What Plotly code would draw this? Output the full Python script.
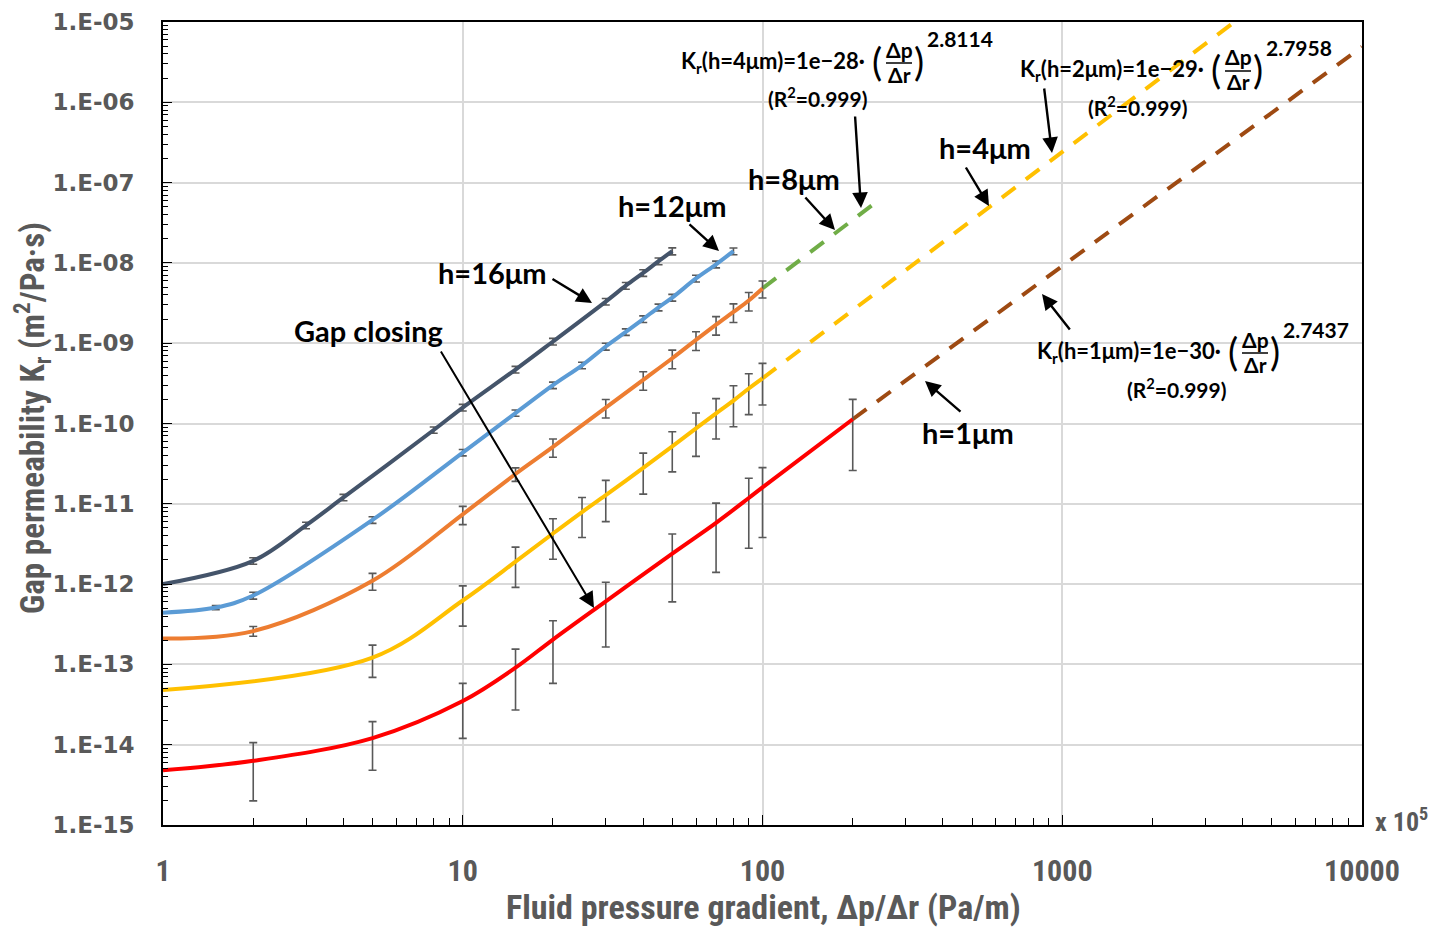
import plotly.graph_objects as go

# ---------------- data ----------------
# x: fluid pressure gradient (x 10^5 Pa/m), k: gap permeability (m^2/Pa.s), e: error (+/-)
x_h16 = [1, 2, 3, 4, 8, 10, 15, 20, 30, 35, 40, 45, 50]
k_h16 = [1.0e-12, 1.95e-12, 5.4e-12, 1.2e-11, 8.3e-11, 1.58e-10, 4.7e-10, 1.05e-9,
         3.3e-9, 5.2e-9, 7.5e-9, 1.05e-8, 1.4e-8]
e_h16 = [None, 1.8e-13, 5e-13, 1.1e-12, 7.5e-12, 1.5e-11, 4.5e-11, 1.0e-10,
         3.1e-10, 5e-10, 7e-10, 1.0e-9, 1.4e-9]

x_h12 = [1, 1.5, 2, 5, 10, 15, 20, 25, 30, 35, 40, 45, 50, 60, 70, 80]
k_h12 = [4.4e-13, 5.1e-13, 7.2e-13, 6.3e-12, 4.35e-11, 1.35e-10, 3.0e-10, 5.3e-10,
         9.1e-10, 1.38e-9, 2.0e-9, 2.8e-9, 3.7e-9, 6.4e-9, 9.6e-9, 1.4e-8]
e_h12 = [None, 3e-14, 7e-14, 6e-13, 4e-12, 1.2e-11, 2.8e-11, 5e-11,
         9e-11, 1.3e-10, 1.9e-10, 2.7e-10, 3.6e-10, 6.2e-10, 9.2e-10, 1.35e-9]

x_h8 = [1, 2, 5, 10, 15, 20, 30, 40, 50, 60, 70, 80, 90, 100]
k_h8 = [2.1e-13, 2.6e-13, 1.1e-12, 7.4e-12, 2.35e-11, 5.1e-11, 1.58e-10, 3.5e-10,
        6.5e-10, 1.1e-9, 1.7e-9, 2.45e-9, 3.4e-9, 4.8e-9]
e_h8 = [None, 3.6e-14, 2.6e-13, 1.9e-12, 4.5e-12, 1.3e-11, 4.1e-11, 9.1e-11,
        1.7e-10, 2.9e-10, 4.4e-10, 6.4e-10, 8.8e-10, 1.15e-9]

x_h4 = [1, 5, 10, 15, 20, 25, 30, 40, 50, 60, 70, 80, 90, 100]
k_h4 = [4.8e-14, 1.215e-13, 6.25e-13, 1.9e-12, 4.27e-12, 7.9e-12, 1.28e-11, 2.8e-11,
        5.2e-11, 8.7e-11, 1.34e-10, 1.93e-10, 2.73e-10, 3.65e-10]
e_h4 = [None, 5.25e-14, 3.25e-13, 9.9e-13, 2.23e-12, 4.1e-12, 6.8e-12, 1.48e-11,
        2.7e-11, 4.8e-11, 7.0e-11, 1.02e-10, 1.44e-10, 1.95e-10]

x_h1 = [1, 2, 5, 10, 15, 20, 30, 50, 70, 90, 100, 200]
k_h1 = [4.8e-15, 6.3e-15, 1.21e-14, 3.5e-14, 9.1e-14, 2.04e-13, 6.1e-13, 2.4e-12,
        5.8e-12, 1.18e-11, 1.6e-11, 1.13e-10]
e_h1 = [None, 4.3e-15, 7.3e-15, 2.3e-14, 6.4e-14, 1.46e-13, 4.45e-13, 1.8e-12,
        4.4e-12, 9.0e-12, 1.22e-11, 8.7e-11]

# power-law fit extensions (end points)
x_fit8 = [100, 233]
k_fit8 = [4.8e-9, 5.3e-8]
x_fit4 = [100, 3750]
k_fit4 = [3.65e-10, 1.0e-5]
x_fit1 = [200, 10000]
k_fit1 = [1.13e-10, 4.9e-6]

x_tickvals = [1, 10, 100, 1000, 10000]
x_ticktext = ["1", "10", "100", "1000", "10000"]
y_tickvals = [1e-15, 1e-14, 1e-13, 1e-12, 1e-11, 1e-10, 1e-9, 1e-8, 1e-7, 1e-6, 1e-5]
y_ticktext = ["1.E-15", "1.E-14", "1.E-13", "1.E-12", "1.E-11", "1.E-10",
              "1.E-09", "1.E-08", "1.E-07", "1.E-06", "1.E-05"]

# ---------------- styles ----------------
C16, C12, C8, C4, C1 = "#44546A", "#5B9BD5", "#ED7D31", "#FFC000", "#FF0000"
CGREEN, CBROWN = "#70AD47", "#9E4A12"
ERRC = "#595959"
GRAY = "#595959"
LAB = "Lato, 'Open Sans', sans-serif"
NARROW = "'Liberation Sans Narrow', 'Roboto Condensed', Roboto, sans-serif"
WIDE = "'DejaVu Sans', Verdana, sans-serif"

fig = go.Figure()


def solid(x, y, e, color):
    fig.add_trace(go.Scatter(
        x=x, y=y, mode="lines", line=dict(color=color, width=4, shape="spline", smoothing=1.0),
        error_y=dict(type="data", array=e, symmetric=True, color=ERRC, thickness=1.6, width=4),
        showlegend=False, hoverinfo="skip"))


def dashed(x, y, color):
    fig.add_trace(go.Scatter(
        x=x, y=y, mode="lines", line=dict(color=color, width=4, dash="17px,13px"),
        showlegend=False, hoverinfo="skip"))


dashed(x_fit8, k_fit8, CGREEN)
dashed(x_fit4, k_fit4, C4)
dashed(x_fit1, k_fit1, CBROWN)
solid(x_h1, k_h1, e_h1, C1)
solid(x_h4, k_h4, e_h4, C4)
solid(x_h8, k_h8, e_h8, C8)
solid(x_h12, k_h12, e_h12, C12)
solid(x_h16, k_h16, e_h16, C16)

# ---------------- layout helpers (page pixel -> paper) ----------------
OFF = 8                      # default body margin of the html page
L, R, T, B = 163, 1362, 22, 825   # plot area in page pixels
W, H = 1456 - OFF, 929 - OFF


def P(px, py):
    return (px - L) / (R - L), (B - py) / (B - T)


anns = []
shapes = []


def text(px, py, s, size, xanchor="center", family=LAB, weight="bold", color="black", angle=0):
    x, y = P(px, py)
    anns.append(dict(x=x, y=y, xref="paper", yref="paper", text=s, showarrow=False,
                     xanchor=xanchor, yanchor="middle", textangle=angle,
                     font=dict(family=family, size=size, color=color, weight=weight)))


def arrow(hx, hy, tx, ty, w=2.4, size=1.3):
    x, y = P(hx, hy)
    anns.append(dict(x=x, y=y, xref="paper", yref="paper", text="", showarrow=True,
                     ax=tx - hx, ay=ty - hy, axref="pixel", ayref="pixel",
                     arrowhead=2, arrowsize=size, arrowwidth=w, arrowcolor="black", standoff=0))


def formula(right_px, mid_py, lead, expo, r2_cx, r2_py):
    text(right_px, mid_py, lead, 22, xanchor="right")
    text(right_px + 10, mid_py - 1, "(", 38, family=LAB, weight="normal")
    text(right_px + 32, mid_py - 13, "Δp", 21)
    text(right_px + 32, mid_py + 12, "Δr", 21)
    x0, y0 = P(right_px + 19, mid_py + 1)
    x1, _ = P(right_px + 45, mid_py + 1)
    shapes.append(dict(type="line", xref="paper", yref="paper", x0=x0, x1=x1, y0=y0, y1=y0,
                       line=dict(color="black", width=1.5)))
    text(right_px + 52, mid_py - 1, ")", 38, family=LAB, weight="normal")
    text(right_px + 58, mid_py - 23, expo, 21, xanchor="left")
    text(r2_cx, r2_py, "(R<sup>2</sup>=0.999)", 21)


# curve labels
text(492, 272, "h=16μm", 29)
arrow(592, 303, 551, 278)
text(672, 205, "h=12μm", 29)
arrow(719, 251, 688, 223)
text(794, 178, "h=8μm", 29)
arrow(835, 230, 804, 196)
text(985, 148, "h=4μm", 29)
arrow(989, 206, 965, 166)
text(968, 432, "h=1μm", 29)
arrow(925, 381, 962, 413)
text(368, 330, "Gap closing", 29)
arrow(594, 608, 440, 350, w=2.0, size=1.6)

# fit equations
formula(867, 62, "K<sub>r</sub>(h=4μm)=1e−28·", "2.8114", 817, 97)
arrow(861, 208, 855, 115)
formula(1206, 70, "K<sub>r</sub>(h=2μm)=1e−29·", "2.7958", 1137, 106)
arrow(1052, 153, 1044, 87)
formula(1223, 352, "K<sub>r</sub>(h=1μm)=1e−30·", "2.7437", 1176, 388)
arrow(1042, 294, 1071, 331)

# axis titles
text(33, 418, "Gap permeability K<sub>r</sub> (m<sup>2</sup>/Pa·s)", 33, family=NARROW, color=GRAY, angle=-90)
text(763, 907, "Fluid pressure gradient, Δp/Δr (Pa/m)", 34, family=NARROW, color=GRAY)
text(1373, 820, "x 10<sup>5</sup>", 26, xanchor="left", family=NARROW, color=GRAY)

x_minor = [m * 10 ** d for d in range(0, 4) for m in range(2, 10)]
y_minor = [m * 10.0 ** d for d in range(-15, -5) for m in range(2, 10)]

fig.update_layout(
    width=W, height=H,
    margin=dict(l=L - OFF, r=W + OFF - R, t=T - OFF, b=H + OFF - B, autoexpand=False),
    paper_bgcolor="white", plot_bgcolor="white",
    showlegend=False,
    annotations=anns, shapes=shapes,
    xaxis=dict(type="log", range=[0, 4], tickmode="array", tickvals=x_tickvals, ticktext=x_ticktext,
               ticks="inside", ticklen=10, tickwidth=1.3, tickcolor="black",
               showline=True, linecolor="black", linewidth=1.8, mirror=True,
               showgrid=True, gridcolor="#D9D9D9", gridwidth=1.5, zeroline=False,
               tickfont=dict(family=NARROW, size=30, color=GRAY, weight="bold"),
               ticklabelstandoff=18,
               minor=dict(tickmode="array", tickvals=x_minor, ticks="inside", ticklen=7,
                          tickwidth=1.2, tickcolor="black", showgrid=False)),
    yaxis=dict(type="log", range=[-15, -5], tickmode="array", tickvals=y_tickvals, ticktext=y_ticktext,
               ticks="inside", ticklen=9, tickwidth=1.3, tickcolor="black",
               showline=True, linecolor="black", linewidth=1.8, mirror=True,
               showgrid=True, gridcolor="#D9D9D9", gridwidth=1.5, zeroline=False,
               tickfont=dict(family=WIDE, size=23, color=GRAY, weight="bold"),
               ticklabelstandoff=22,
               minor=dict(tickmode="array", tickvals=y_minor, ticks="inside", ticklen=5,
                          tickwidth=1.2, tickcolor="black", showgrid=False)),
)

fig.write_html("out.html")
